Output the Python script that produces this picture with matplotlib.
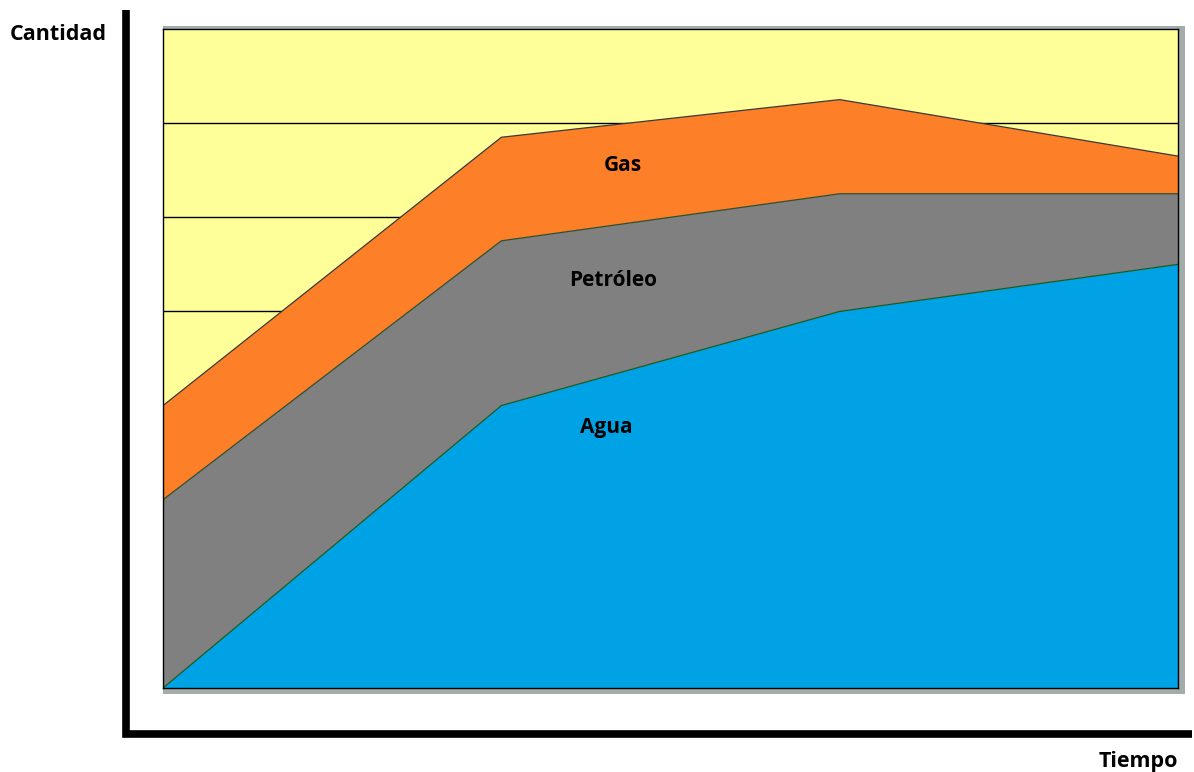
import numpy as np
import matplotlib
matplotlib.use("Agg")
import matplotlib.pyplot as plt
from matplotlib.lines import Line2D
from matplotlib.patches import Rectangle

# production profile per period (stacked)
tiempo = [0, 1, 2, 3]
agua = [0.0, 3.0, 4.0, 4.5]
petroleo = [2.0, 1.75, 1.25, 0.75]
gas = [1.0, 1.1, 1.0, 0.4]
series_names = ["Agua", "Petróleo", "Gas"]
colors = ["#00A2E6", "#808080", "#FD7F27"]
edge_colors = ["#1E5A1E", "#2F4F2F", "#3A3A3A"]

W, H = 1194, 772
fig = plt.figure(figsize=(W / 100, H / 100), dpi=100)

# axes box in pixel terms
left, right, top, bottom = 163, 1178, 29, 688
ax = fig.add_axes([left / W, 1 - bottom / H, (right - left) / W, (bottom - top) / H])
ax.set_facecolor("#FFFF99")

# drop shadow behind the plot area
fig.add_artist(Rectangle((left / W, 1 - 694 / H), (1185 - left) / W, (694 - 26) / H,
                         transform=fig.transFigure, facecolor="#A3ABAB",
                         edgecolor="none", zorder=0))

stack = np.vstack([agua, petroleo, gas])
ax.stackplot(tiempo, stack, colors=colors, linewidth=0, zorder=2)
tops = np.cumsum(stack, axis=0)
for t, ec in zip(tops, edge_colors):
    ax.plot(tiempo, t, color=ec, lw=0.9, zorder=3)

ax.set_xlim(0, 3)
ax.set_ylim(0, 7)
for y in range(1, 7):
    ax.axhline(y, color="black", lw=1.0, zorder=1)
ax.set_xticks([])
ax.set_yticks([])
for s in ax.spines.values():
    s.set_color("black")
    s.set_linewidth(1.0)
    s.set_zorder(4)

font = dict(family=["Open Sans", "DejaVu Sans"], fontweight="bold", color="black")
ax.text(1.36, 5.55, "Gas", ha="center", va="center", fontsize=15, zorder=5, **font)
ax.text(1.33, 4.33, "Petróleo", ha="center", va="center", fontsize=15, zorder=5, **font)
ax.text(1.31, 2.77, "Agua", ha="center", va="center", fontsize=15, zorder=5, **font)

# hand-drawn style axes outside the plot area
fig.add_artist(Line2D([125.5 / W, 125.5 / W, 1192 / W],
                      [1 - 10 / H, 1 - 734 / H, 1 - 734 / H],
                      transform=fig.transFigure, color="black", lw=5.5,
                      solid_joinstyle="miter", solid_capstyle="butt"))

fig.text(10 / W, 1 - 34 / H, "Cantidad", ha="left", va="center", fontsize=15.5, **font)
fig.text(1178 / W, 1 - 761 / H, "Tiempo", ha="right", va="center", fontsize=15.5, **font)

fig.savefig("out.png", dpi=100)
